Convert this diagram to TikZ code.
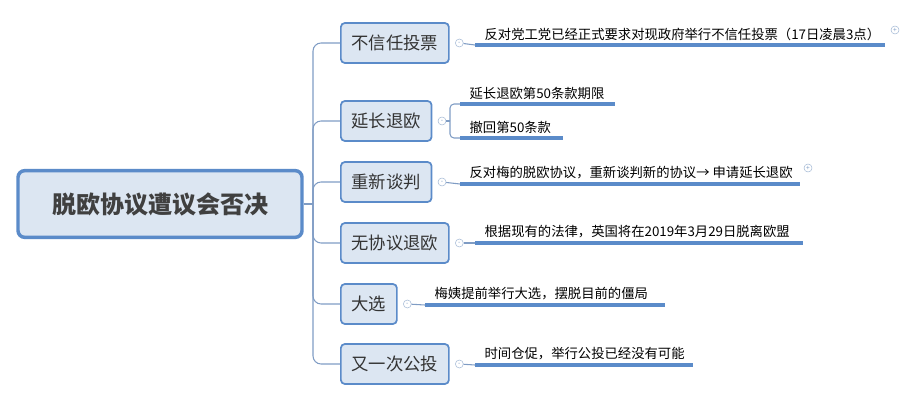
\documentclass[tikz,border=0pt]{standalone}
\usepackage{fontspec}
\setmainfont{Noto Sans CJK SC}
\usetikzlibrary{positioning,calc}
\definecolor{boxfill}{HTML}{DCE6F2}
\definecolor{boxline}{HTML}{5B8BC9}
\definecolor{spine}{HTML}{7F9CC4}
\tikzset{
  root/.style={draw=boxline, line width=2.6pt, fill=boxfill, rounded corners=5pt,
    minimum width=213pt, minimum height=50pt, font=\fontsize{18}{18}\selectfont\bfseries, text=black!75},
  topic/.style={draw=boxline, line width=1.3pt, fill=boxfill, rounded corners=3pt,
    minimum height=30pt, inner xsep=8pt, font=\fontsize{13}{13}\selectfont, text=black!80, anchor=west},
  leaf/.style={font=\fontsize{10}{10}\selectfont, anchor=south west, inner sep=1pt},
  uline/.style={draw=boxline, line width=2.4pt},
  link/.style={draw=spine, line width=0.8pt},
  fold/.style={circle, draw=spine!70, fill=white, inner sep=0pt, minimum size=6pt},
}
\begin{document}
\begin{tikzpicture}[x=0.75pt, y=-0.75pt]
    \useasboundingbox (0,0) rectangle (916,402);

    % Root and topics
    \node (root) at (160,204) [root] {脱欧协议遭议会否决};
    \node (t1) at (340,43) [topic] {不信任投票};
    \node (t2) at (340,121) [topic] {延长退欧};
    \node (t3) at (340,182) [topic] {重新谈判};
    \node (t4) at (340,243) [topic] {无协议退欧};
    \node (t5) at (340,304) [topic] {大选};
    \node (t6) at (340,364) [topic] {又一次公投};

    % Spine
    \coordinate (sp) at (313,204);
    \draw[link] (root.east) -- (sp);
    \foreach \t in {t1,t2,t3,t4,t5,t6}
        \draw[link, rounded corners=6pt] (sp) |- (\t.west);

    % Fold circles
    \foreach \t in {t1,t2,t3,t4,t5,t6}
        \node (\t f) [fold, right=4pt of \t.east] {};
    \foreach \t in {t1,t2,t3,t4,t5,t6}
        \node at (\t f) {\tiny\textcolor{spine}{-}};

    % Leaves
    \coordinate (l1a) at (475,45);   \coordinate (l1b) at (885,45);
    \coordinate (l2a) at (460,104);  \coordinate (l2b) at (615,104);
    \coordinate (l3a) at (460,138);  \coordinate (l3b) at (563,138);
    \coordinate (l4a) at (460,184);  \coordinate (l4b) at (800,184);
    \coordinate (l5a) at (475,243);  \coordinate (l5b) at (803,243);
    \coordinate (l6a) at (425,305);  \coordinate (l6b) at (665,305);
    \coordinate (l7a) at (475,365);  \coordinate (l7b) at (693,365);

    \draw[link] (t1f) -- (l1a);
    \draw[link] (t2f) -- (450,121);
    \draw[link, rounded corners=3pt] (450,121) |- (l2a);
    \draw[link, rounded corners=3pt] (450,121) |- (l3a);
    \draw[link] (t3f) -- (l4a);
    \draw[link] (t4f) -- (l5a);
    \draw[link] (t5f) -- (l6a);
    \draw[link] (t6f) -- (l7a);

    \foreach \a/\b in {l1a/l1b,l2a/l2b,l3a/l3b,l4a/l4b,l5a/l5b,l6a/l6b,l7a/l7b}
        \draw[uline] (\a) -- (\b);

    \node (x1) [leaf] at ($(l1a)+(8,-3)$) {反对党工党已经正式要求对现政府举行不信任投票（17日凌晨3点）};
    \node (x2) [leaf] at ($(l2a)+(8,-3)$) {延长退欧第50条款期限};
    \node (x3) [leaf] at ($(l3a)+(8,-3)$) {撤回第50条款};
    \node (x4) [leaf] at ($(l4a)+(8,-3)$) {反对梅的脱欧协议，重新谈判新的协议→ 申请延长退欧};
    \node (x5) [leaf] at ($(l5a)+(8,-3)$) {根据现有的法律，英国将在2019年3月29日脱离欧盟};
    \node (x6) [leaf] at ($(l6a)+(8,-3)$) {梅姨提前举行大选，摆脱目前的僵局};
    \node (x7) [leaf] at ($(l7a)+(8,-3)$) {时间仓促，举行公投已经没有可能};

    % Expand markers
    \node (p1) [fold] at (895,30) {};
    \node at (p1) {\tiny\textcolor{spine}{+}};
    \node (p4) [fold] at (808,168) {};
    \node at (p4) {\tiny\textcolor{spine}{+}};
\end{tikzpicture}
\end{document}
